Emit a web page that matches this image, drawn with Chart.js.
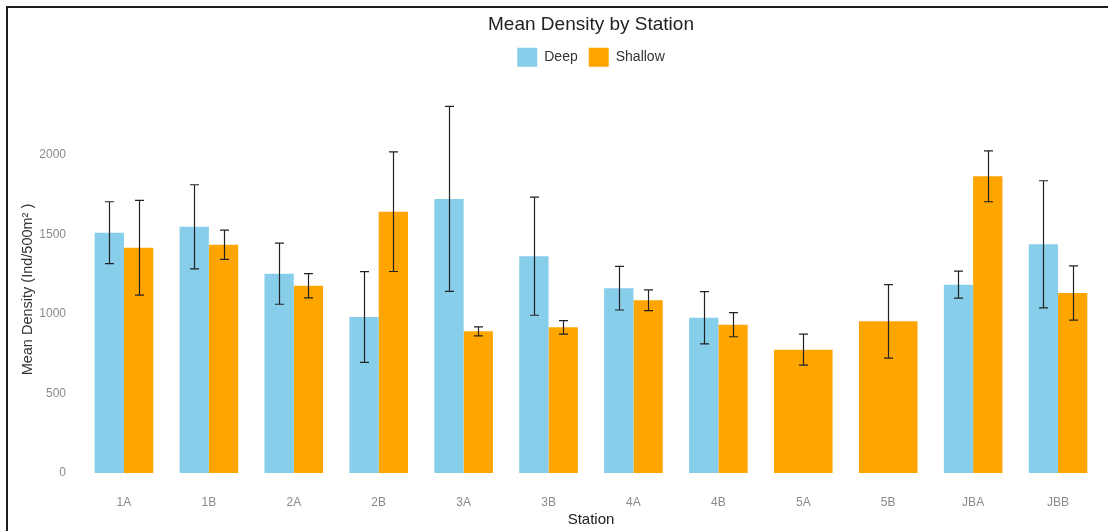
<!DOCTYPE html>
<html>
<head>
<meta charset="utf-8">
<title>Mean Density by Station</title>
<script src="https://cdn.jsdelivr.net/npm/chart.js@4/dist/chart.umd.min.js"></script>
<style>
  html, body { margin: 0; padding: 0; background: #fff; overflow: hidden; }
  .frame { position: absolute; left: 6px; top: 6px; width: 1200px; height: 600px; border: 2px solid #1e1e1e; }
  .wrap { position: absolute; left: 0; top: 0; width: 1108px; height: 531px; }
</style>
</head>
<body>
<div class="frame"></div>
<div class="wrap"><canvas id="myChart"></canvas></div>
<script>
const stations = ['1A', '1B', '2A', '2B', '3A', '3B', '4A', '4B', '5A', '5B', 'JBA', 'JBB']

// mean density and standard deviation per station (no deep samples at 5A / 5B)
const deepMean = [1510, 1547, 1252, 980, 1722, 1362, 1161, 975, null, null, 1183, 1437]
const deepSd = [194, 264, 192, 285, 581, 371, 137, 164, null, null, 85, 399]
const shallowMean = [1415, 1434, 1176, 1642, 890, 915, 1085, 932, 775, 953, 1864, 1131]
const shallowSd = [298, 92, 76, 376, 28, 42, 65, 76, 97, 231, 160, 170]

const yTicks = [0, 500, 1000, 1500, 2000]

const ctx = document.getElementById('myChart').getContext('2d')
Chart.defaults.font.family = "'Liberation Sans', Arial, sans-serif"

// draws mean +/- sd whiskers on top of each bar
const errorBars = {
    id: 'errorBars',
    afterDatasetsDraw(chart) {
        const y = chart.scales.y
        const c = chart.ctx
        c.save()
        c.strokeStyle = '#222'
        c.lineWidth = 1.2
        chart.data.datasets.forEach((ds, i) => {
            const meta = chart.getDatasetMeta(i)
            meta.data.forEach((bar, j) => {
                const m = ds.data[j]
                const sd = ds.sd[j]
                if (m == null || sd == null) return
                const x = Math.round(bar.x) + 0.5
                const top = y.getPixelForValue(m + sd)
                const bottom = y.getPixelForValue(m - sd)
                c.beginPath()
                c.moveTo(x, top)
                c.lineTo(x, bottom)
                c.moveTo(x - 4.5, top)
                c.lineTo(x + 4.5, top)
                c.moveTo(x - 4.5, bottom)
                c.lineTo(x + 4.5, bottom)
                c.stroke()
            })
        })
        c.restore()
    }
}

const myChart = new Chart(ctx, {
    type: 'bar',
    data: {
        labels: stations,
        datasets: [{
            label: 'Deep',
            data: deepMean,
            sd: deepSd,
            backgroundColor: '#87CEEB',
            borderWidth: 0
        }, {
            label: 'Shallow',
            data: shallowMean,
            sd: shallowSd,
            backgroundColor: '#FFA500',
            borderWidth: 0
        }]
    },
    options: {
        responsive: true,
        maintainAspectRatio: false,
        animation: false,
        skipNull: true,
        categoryPercentage: 0.69,
        barPercentage: 1.0,
        layout: { padding: { left: 0, right: 7.5, top: 0, bottom: 0 } },
        plugins: {
            tooltip: { enabled: false },
            title: {
                display: true,
                text: 'Mean Density by Station',
                fullSize: false,
                color: '#222',
                font: { size: 19, weight: 'normal' },
                padding: { top: 13.6, bottom: 0.3 }
            },
            // empty block under the legend, keeps space above the plot
            subtitle: {
                display: true,
                text: '',
                weight: 500,
                fullSize: false,
                font: { size: 1, lineHeight: 1 },
                padding: { top: 10.1, bottom: 0 }
            },
            legend: {
                display: true,
                fullSize: false,
                labels: {
                    boxWidth: 20,
                    boxHeight: 19,
                    padding: 11,
                    color: '#333',
                    font: { size: 14 }
                }
            }
        },
        scales: {
            x: {
                grid: { display: false, drawTicks: false },
                border: { display: false },
                ticks: { color: '#8a8a8a', font: { size: 12 }, padding: 4.5 },
                title: {
                    display: true,
                    text: 'Station',
                    color: '#222',
                    font: { size: 15 },
                    padding: { top: 0, bottom: 2 }
                },
                afterFit: s => { s.height = 39.7 }
            },
            y: {
                min: -115,
                max: 2420,
                grid: { display: false, drawTicks: false },
                border: { display: false },
                ticks: {
                    color: '#8a8a8a',
                    font: { size: 12 },
                    padding: 15.5,
                    callback: v => String(v)
                },
                afterBuildTicks: s => { s.ticks = yTicks.map(v => ({ value: v })) },
                title: {
                    display: true,
                    text: 'Mean Density (Ind/500m² )',
                    color: '#333',
                    font: { size: 14.5 },
                    padding: { top: 19.3, bottom: 0 }
                },
                afterFit: s => { s.width = 81.5 }
            }
        }
    },
    plugins: [errorBars]
})
</script>
</body>
</html>
